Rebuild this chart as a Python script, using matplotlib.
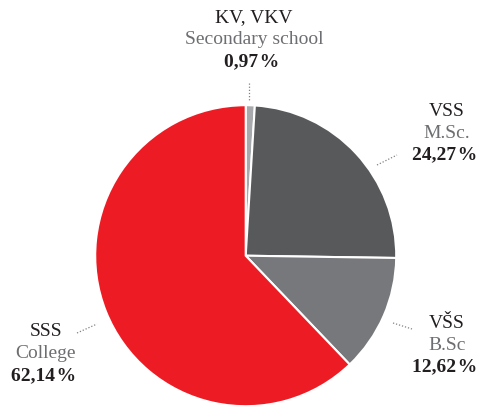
import matplotlib.pyplot as plt

# education shares, clockwise from the top
codes = ['KV, VKV', 'VSS', 'VŠS', 'SSS']
names = ['Secondary school', 'M.Sc.', 'B.Sc', 'College']
shares = [0.97, 24.27, 12.62, 62.14]
colors = ['#A7A9AC', '#58595B', '#77787B', '#ED1C24']

# label block centres (pixels) and leader line ends
label_xy = [(254, 18), (447, 111), (447, 323), (46, 332)]
leaders = [((249, 83), (249, 100)), ((377, 165), (397, 155)),
           ((393, 323), (412, 329)), ((77, 333), (97, 324))]

W, H = 482, 407
cx, cy, r = 245.7, 255.7, 150.5

plt.rcParams['font.family'] = ['Liberation Serif', 'DejaVu Serif']

fig = plt.figure(figsize=(W / 100, H / 100), dpi=100)
ax = fig.add_axes([0, 0, 1, 1])
ax.pie(shares, colors=colors, startangle=90, counterclock=False,
       wedgeprops=dict(edgecolor='white', linewidth=1.5))
ax.set_xlim(-cx / r, (W - cx) / r)
ax.set_ylim(-(H - cy) / r, cy / r)
ax.set_aspect('auto')
ax.axis('off')


def px(x, y):
    return (x - cx) / r, (cy - y) / r


for (p0, p1) in leaders:
    a, b = px(*p0), px(*p1)
    ax.plot([a[0], b[0]], [a[1], b[1]], color='#808285', lw=0.9,
            ls=(0, (1, 1.5)))

for code, name, val, (x, y) in zip(codes, names, shares, label_xy):
    pct = ('%.2f' % val).replace('.', ',') + '\u200a%'
    x0, y0 = px(x, y)
    x1, y1 = px(x, y + 22)
    x2, y2 = px(x - 2, y + 44)
    ax.text(x0, y0, code, ha='center', va='center', fontsize=14,
            color='#231F20')
    ax.text(x1, y1, name, ha='center', va='center', fontsize=14,
            color='#6D6E71')
    ax.text(x2, y2, pct, ha='center', va='center', fontsize=14,
            color='#231F20', fontweight='bold')

fig.savefig('out.png', dpi=100)
